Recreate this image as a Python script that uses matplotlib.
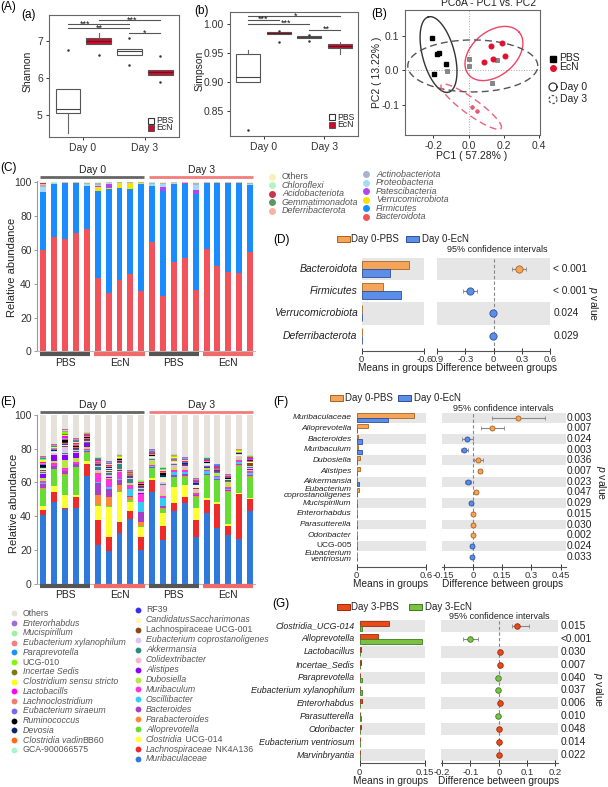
import numpy as np
import matplotlib
matplotlib.use('Agg')
import matplotlib.pyplot as plt
from matplotlib import transforms
from matplotlib.patches import Rectangle

plt.rcParams['font.family'] = ['Liberation Sans', 'DejaVu Sans']
plt.rcParams['mathtext.fontset'] = 'custom'
plt.rcParams['mathtext.rm'] = 'Liberation Sans'
plt.rcParams['mathtext.it'] = 'Liberation Sans:italic'
plt.rcParams['mathtext.bf'] = 'Liberation Sans:bold'
plt.rcParams['axes.linewidth'] = 0.8

# ====================== DATA ======================
box_groups = ['PBS', 'EcN', 'PBS', 'EcN']
day_labels = ['Day 0', 'Day 3']

# (a) Shannon
shannon_q1 = [5.05, 6.92, 6.62, 6.08]
shannon_med = [5.16, 7.00, 6.74, 6.15]
shannon_q3 = [5.70, 7.09, 6.78, 6.22]
shannon_lo = [4.51, 6.92, 6.62, 6.08]
shannon_hi = [5.70, 7.22, 6.78, 6.22]
shannon_fliers = [[6.76], [6.62], [7.07, 6.35], [6.59, 5.88]]
shannon_sig_x1 = [1, 2, 1, 3]
shannon_sig_x2 = [3, 4, 3, 4]
shannon_sig_y = [7.46, 7.57, 7.34, 7.21]
shannon_sig_tx = [1.58, 3.10, 2.03, 3.48]
shannon_sig_lab = ['***', '***', '**', '*']

# (b) Simpson
simpson_q1 = [0.899, 0.983, 0.976, 0.958]
simpson_med = [0.908, 0.984, 0.977, 0.961]
simpson_q3 = [0.948, 0.985, 0.978, 0.965]
simpson_lo = [0.899, 0.983, 0.976, 0.948]
simpson_hi = [0.955, 0.985, 0.978, 0.969]
simpson_fliers = [[0.817], [0.988, 0.969], [0.981, 0.971], []]
simpson_sig_x1 = [1, 1, 1, 3]
simpson_sig_x2 = [4, 2, 3, 4]
simpson_sig_y = [1.0129, 1.0069, 1.0000, 0.9897]
simpson_sig_tx = [2.55, 1.50, 2.25, 3.55]
simpson_sig_lab = ['*', '***', '***', '**']

# (B) PCoA
pbs_d0_x = [-0.207, -0.179, -0.170, -0.128, -0.198]
pbs_d0_y = [0.092, 0.048, 0.050, 0.017, -0.010]
pbs_d3_x = [-0.120, 0.000, 0.000, 0.163, 0.135]
pbs_d3_y = [-0.002, 0.032, 0.012, 0.029, -0.037]
ecn_d0_x = [0.130, 0.191, 0.209, 0.139, 0.089]
ecn_d0_y = [0.070, 0.077, 0.042, 0.032, 0.024]
ecn_d3_x = [0.020, 0.048]
ecn_d3_y = [-0.106, -0.119]
ell_cx = [-0.170, 0.144, 0.024, 0.015]
ell_cy = [0.045, 0.048, 0.012, -0.106]
ell_a_px = [39, 33, 65, 37]
ell_b_px = [16, 22, 26, 8]
ell_angle = [105, 40, 0, -36]
ell_color = ['#333333', '#ee4466', '#555555', '#f06080']
ell_style = ['-', '-', (0, (5, 3)), (0, (5, 3))]

# (C) phylum stacked bars (20 samples)
sample_groups = ['PBS', 'EcN', 'PBS', 'EcN']
bacteroidota = [60.0, 67.6, 66.8, 70.1, 72.7, 43.7, 34.8, 42.1, 46.0, 35.6,
                64.8, 32.8, 53.0, 55.1, 36.2, 60.5, 50.4, 46.9, 46.6, 59.1]
firmicutes = [34.2, 31.3, 32.7, 29.4, 25.0, 51.3, 61.2, 54.3, 50.2, 63.3,
              33.1, 61.8, 45.9, 44.0, 57.0, 39.0, 49.1, 52.8, 52.9, 39.4]
verrucomicrobiota = [0.2, 0.1, 0.0, 0.0, 0.0, 2.4, 0.6, 3.4, 3.2, 0.8,
                     0.0, 0.0, 0.0, 0.0, 0.0, 0.0, 0.0, 0.0, 0.0, 0.0]
patescibacteria = [0.1, 0.0, 0.0, 0.0, 0.0, 0.3, 2.6, 0.0, 0.2, 0.0,
                   0.2, 2.6, 0.2, 0.4, 2.0, 0.0, 0.0, 0.0, 0.0, 0.0]
proteobacteria = [2.8, 0.4, 0.2, 0.2, 1.4, 1.0, 0.3, 0.1, 0.2, 0.2,
                  1.0, 2.0, 0.5, 0.2, 3.2, 0.2, 0.2, 0.1, 0.2, 0.6]
actinobacteriota = [1.0, 0.3, 0.2, 0.2, 0.5, 0.8, 0.4, 0.1, 0.2, 0.1,
                    0.6, 0.5, 0.3, 0.2, 1.2, 0.2, 0.2, 0.1, 0.2, 0.6]
deferribacterota = [0.6, 0.1, 0.1, 0.1, 0.2, 0.2, 0.1, 0.1, 0.1, 0.1,
                    0.2, 0.1, 0.1, 0.1, 0.2, 0.1, 0.1, 0.1, 0.1, 0.1]
gemmatimonadota = [0.3, 0.0, 0.0, 0.0, 0.0, 0.0, 0.0, 0.0, 0.0, 0.0,
                   0.0, 0.0, 0.0, 0.0, 0.0, 0.0, 0.0, 0.0, 0.0, 0.0]
acidobacteriota = [0.3, 0.0, 0.0, 0.0, 0.0, 0.0, 0.0, 0.0, 0.0, 0.0,
                   0.0, 0.0, 0.0, 0.0, 0.0, 0.0, 0.0, 0.0, 0.0, 0.0]
chloroflexi = [0.0, 0.4, 0.0, 0.0, 0.0, 0.0, 0.0, 0.0, 0.0, 0.0,
               0.1, 0.0, 0.0, 0.0, 0.0, 0.0, 0.0, 0.0, 0.3, 0.0]
phylum_legend_col1 = ['Others', 'Chloroflexi', 'Acidobacteriota', 'Gemmatimonadota', 'Deferribacterota']
phylum_legend_col2 = ['Actinobacteriota', 'Proteobacteria', 'Patescibacteria', 'Verrucomicrobiota',
                      'Firmicutes', 'Bacteroidota']
phylum_colors = {'Others': '#fbefb6', 'Chloroflexi': '#b5f3c4', 'Acidobacteriota': '#c9344e',
                 'Gemmatimonadota': '#5d9664', 'Deferribacterota': '#f3b4a0',
                 'Actinobacteriota': '#a9b2cf', 'Proteobacteria': '#a8d8f8',
                 'Patescibacteria': '#b046f0', 'Verrucomicrobiota': '#f5e200',
                 'Firmicutes': '#1a8cff', 'Bacteroidota': '#f4525a'}

# (E) genus stacked bars
genus_legend_col1 = ['Others', 'Enterorhabdus', 'Mucispirillum', 'Eubacterium xylanophilum',
                     'Paraprevotella', 'UCG-010', 'Incertae Sedis', 'Clostridium sensu stricto',
                     'Lactobacills', 'Lachnoclostridium', 'Eubacterium siraeum', 'Ruminococcus',
                     'Devosia', 'Clostridia vadinBB60', 'GCA-900066575']
genus_legend_col2 = ['RF39', 'CandidatusSaccharimonas', 'Lachnospiraceae UCG-001',
                     'Eubacterium coprostanoligenes', 'Akkermansia', 'Colidextribacter', 'Alistipes',
                     'Dubosiella', 'Muribaculum', 'Oscillibacter', 'Bacteroides', 'Parabacteroides',
                     'Alloprevotella', 'Clostridia UCG-014', 'Lachnospiraceae NK4A136', 'Muribaculaceae']
genus_colors = {'Others': '#e6e1da', 'Enterorhabdus': '#9b6ee0', 'Mucispirillum': '#9ef0a0',
                'Eubacterium xylanophilum': '#f08080', 'Paraprevotella': '#1e90ff',
                'UCG-010': '#7cfc00', 'Incertae Sedis': '#7d7a1a',
                'Clostridium sensu stricto': '#ffff00', 'Lactobacills': '#ff00ff',
                'Lachnoclostridium': '#f47c6c', 'Eubacterium siraeum': '#7b68ee',
                'Ruminococcus': '#000000', 'Devosia': '#0a2a6b', 'Clostridia vadinBB60': '#ff6a13',
                'GCA-900066575': '#aaf5c8', 'RF39': '#3a2cf0', 'CandidatusSaccharimonas': '#fff3c0',
                'Lachnospiraceae UCG-001': '#8b4a13', 'Eubacterium coprostanoligenes': '#d9c4f5',
                'Akkermansia': '#2e8b7a', 'Colidextribacter': '#f5b5cf', 'Alistipes': '#8a00ff',
                'Dubosiella': '#b8e83a', 'Muribaculum': '#ff33dd', 'Oscillibacter': '#33ccf5',
                'Bacteroides': '#a640c8', 'Parabacteroides': '#ff8833', 'Alloprevotella': '#66dd33',
                'Clostridia UCG-014': '#ffff33', 'Lachnospiraceae NK4A136': '#ee2a2a',
                'Muribaculaceae': '#2f78dc'}
genus_abundance = {
    'Muribaculaceae': [40.6, 48.6, 44.0, 45.0, 63.8, 22.9, 19.5, 29.8, 38.1, 19.9, 54.5, 25.8, 43.0, 48.0, 27.8, 41.6, 33.1, 28.8, 26.4, 43.0],
    'Lachnospiraceae NK4A136': [3.0, 5.9, 1.0, 6.5, 6.9, 14.8, 7.9, 6.5, 5.1, 7.9, 6.9, 8.3, 5.0, 3.1, 9.9, 7.9, 14.1, 5.5, 26.7, 6.9],
    'Clostridia UCG-014': [2.5, 3.4, 7.5, 1.0, 2.0, 8.3, 18.2, 18.2, 5.0, 5.9, 1.0, 7.9, 9.5, 7.4, 6.9, 1.0, 1.4, 1.0, 0.8, 1.0],
    'Alloprevotella': [10.0, 9.9, 11.9, 16.4, 4.9, 0.5, 0.3, 0.3, 1.4, 0.5, 5.9, 2.5, 5.5, 4.9, 6.9, 13.8, 12.8, 19.2, 16.0, 12.5],
    'Parabacteroides': [0.5, 0.3, 0.3, 0.3, 0.3, 6.0, 5.5, 3.4, 1.5, 2.5, 0.5, 0.5, 0.5, 0.5, 0.3, 0.3, 0.3, 0.3, 0.3, 0.3],
    'Bacteroides': [2.5, 1.6, 2.0, 1.5, 0.8, 6.9, 4.4, 3.5, 1.0, 5.9, 0.5, 0.8, 1.0, 0.8, 0.5, 0.5, 0.5, 0.5, 0.5, 0.8],
    'Oscillibacter': [0.5, 0.3, 0.3, 0.3, 0.3, 1.0, 1.5, 0.5, 4.0, 5.9, 0.5, 5.0, 1.5, 1.5, 0.5, 1.5, 1.0, 1.0, 1.5, 1.0],
    'Muribaculum': [1.5, 1.5, 1.5, 1.0, 0.8, 5.0, 5.0, 4.0, 2.5, 4.5, 0.8, 1.0, 1.5, 1.0, 0.8, 1.0, 0.8, 0.8, 1.0, 1.0],
    'Dubosiella': [1.5, 1.0, 5.0, 2.4, 1.5, 0.5, 0.5, 0.5, 0.3, 0.3, 2.0, 0.5, 1.0, 0.5, 0.5, 1.0, 0.8, 2.5, 0.5, 1.0],
    'Alistipes': [2.5, 4.0, 3.0, 3.2, 2.0, 0.5, 0.5, 0.5, 0.3, 0.3, 0.3, 0.3, 0.3, 0.3, 0.3, 0.3, 0.3, 0.3, 0.3, 0.5],
    'Colidextribacter': [0.5, 0.3, 0.5, 0.5, 0.3, 1.0, 1.0, 0.5, 0.5, 1.5, 0.5, 6.0, 1.5, 1.0, 1.0, 0.5, 0.5, 0.5, 0.8, 0.8],
    'Akkermansia': [0.3, 0.2, 0.3, 0.3, 0.2, 2.0, 1.5, 3.5, 2.5, 1.2, 0.3, 0.5, 0.5, 0.3, 0.3, 0.3, 0.3, 0.3, 0.3, 0.3],
    'Eubacterium coprostanoligenes': [1.0, 0.5, 3.9, 1.0, 1.0, 0.5, 0.5, 0.5, 0.5, 0.5, 0.5, 1.0, 0.5, 0.5, 0.5, 0.5, 0.5, 0.3, 0.5, 0.5],
    'Lachnospiraceae UCG-001': [0.3, 0.2, 0.3, 0.3, 0.3, 0.3, 0.3, 0.3, 0.3, 0.3, 0.3, 0.3, 0.3, 0.3, 0.3, 0.3, 0.3, 0.2, 0.3, 2.0],
    'CandidatusSaccharimonas': [0.5, 0.3, 0.5, 0.3, 0.3, 0.3, 0.5, 0.3, 0.3, 0.3, 0.3, 2.0, 0.5, 0.3, 2.0, 0.3, 0.3, 0.2, 0.3, 0.3],
    'RF39': [0.3, 0.3, 0.5, 0.3, 0.3, 0.3, 1.0, 0.3, 0.3, 0.3, 0.3, 0.5, 0.3, 0.3, 0.3, 0.3, 0.3, 0.2, 0.3, 0.3],
    'GCA-900066575': [0.3, 0.2, 0.3, 0.3, 0.2, 0.3, 0.3, 0.3, 0.2, 0.2, 0.3, 0.3, 0.3, 0.2, 0.2, 0.2, 0.2, 0.2, 0.2, 0.2],
    'Clostridia vadinBB60': [0.5, 0.3, 0.5, 0.3, 0.3, 0.3, 0.3, 0.3, 0.3, 0.3, 0.3, 0.3, 0.3, 0.3, 0.3, 0.3, 0.3, 0.2, 0.3, 0.5],
    'Devosia': [0.3, 0.2, 0.5, 0.3, 0.2, 0.2, 0.2, 0.2, 0.2, 0.5, 0.2, 1.0, 0.2, 0.2, 0.2, 0.2, 0.2, 0.2, 0.2, 0.2],
    'Ruminococcus': [1.2, 0.2, 1.2, 0.5, 0.3, 0.2, 0.2, 0.2, 0.2, 0.2, 0.2, 1.0, 0.2, 0.2, 0.2, 0.2, 0.2, 0.2, 0.2, 0.2],
    'Eubacterium siraeum': [0.5, 0.5, 0.8, 0.5, 0.3, 0.3, 0.3, 0.3, 0.3, 0.3, 0.3, 0.3, 0.3, 0.3, 0.3, 0.3, 0.3, 0.2, 0.3, 0.3],
    'Lachnoclostridium': [0.7, 0.5, 0.8, 0.8, 0.5, 0.5, 0.5, 0.5, 0.5, 0.5, 0.5, 0.5, 0.5, 0.5, 0.5, 0.5, 0.3, 0.3, 0.3, 0.3],
    'Lactobacills': [0.5, 0.3, 0.8, 0.5, 0.5, 0.5, 0.5, 0.3, 0.3, 0.3, 0.5, 0.5, 0.5, 0.3, 0.3, 0.3, 0.3, 0.3, 0.3, 0.3],
    'Clostridium sensu stricto': [1.2, 0.3, 0.8, 0.5, 0.3, 0.3, 0.3, 0.3, 0.2, 0.2, 0.3, 0.5, 0.3, 0.3, 0.3, 0.3, 0.3, 0.2, 0.3, 0.3],
    'Incertae Sedis': [0.3, 0.2, 0.5, 0.3, 0.2, 0.2, 0.2, 0.2, 0.2, 0.2, 0.2, 0.2, 0.2, 0.2, 0.2, 0.2, 0.2, 0.2, 0.2, 0.3],
    'UCG-010': [0.5, 0.3, 1.0, 0.5, 0.3, 0.3, 0.3, 0.3, 0.2, 0.2, 0.3, 0.5, 0.3, 0.3, 0.2, 0.3, 0.2, 0.2, 0.2, 0.2],
    'Paraprevotella': [0.4, 0.2, 0.3, 0.3, 0.2, 0.3, 0.3, 0.3, 0.2, 0.2, 0.3, 0.3, 0.3, 0.3, 0.2, 0.3, 0.3, 0.2, 0.3, 0.3],
    'Eubacterium xylanophilum': [0.5, 0.5, 0.5, 0.5, 0.5, 0.5, 0.5, 0.5, 0.3, 0.3, 0.5, 0.5, 0.5, 0.5, 0.3, 0.5, 0.3, 0.3, 0.3, 0.5],
    'Mucispirillum': [0.3, 0.3, 0.5, 0.3, 0.3, 0.3, 0.3, 0.3, 0.2, 0.2, 0.3, 0.3, 0.3, 0.3, 0.2, 0.3, 0.2, 0.2, 0.2, 0.2],
    'Enterorhabdus': [0.3, 0.3, 0.5, 0.3, 0.3, 0.3, 0.3, 0.3, 0.2, 0.2, 0.3, 0.3, 0.3, 0.3, 0.2, 0.3, 0.2, 0.2, 0.2, 0.3],
}
# legend labels whose first part is italic and second part upright
genus_mixed_split = {'Clostridia vadinBB60': ('Clostridia vadin', 'BB60'),
                     'Clostridia UCG-014': ('Clostridia', ' UCG-014'),
                     'Lachnospiraceae NK4A136': ('Lachnospiraceae', ' NK4A136')}
genus_upright = ['Others', 'UCG-010', 'GCA-900066575', 'RF39', 'Lachnospiraceae UCG-001']

# (D) phylum extended error bar
d_names = ['Bacteroidota', 'Firmicutes', 'Verrucomicrobiota', 'Deferribacterota']
d_pbs = [0.453, 0.207, 0.001, 0.0005]
d_ecn = [0.271, 0.374, 0.004, 0.002]
d_diff = [0.266, -0.248, -0.010, -0.003]
d_ci_lo = [0.192, -0.322, -0.020, -0.012]
d_ci_hi = [0.340, -0.174, 0.000, 0.006]
d_p = ['< 0.001', '< 0.001', '0.024', '0.029']

# (F) genus, day 0
f_names = ['Muribaculaceae', 'Alloprevotella', 'Bacteroides', 'Muribaculum', 'Dubosiella',
           'Alistipes', 'Akkermansia', 'Eubacterium\ncoprostanoligenes', 'Mucispirillum',
           'Enterorhabdus', 'Parasutterella', 'Odoribacter', 'UCG-005', 'Eubacterium\nventriosum']
f_pbs = [0.499, 0.100, 0.014, 0.010, 0.025, 0.028, 0.003, 0.018, 0.002, 0.005, 0.004, 0.003, 0.001, 0.001]
f_ecn = [0.268, 0.005, 0.043, 0.043, 0.003, 0.003, 0.020, 0.002, 0.004, 0.002, 0.002, 0.001, 0.003, 0.003]
f_diff = [0.233, 0.099, -0.029, -0.043, 0.028, 0.036, -0.024, 0.014, -0.008, 0.001, 0.001, 0.002, -0.002, -0.002]
f_ci_lo = [0.099, 0.043, -0.054, -0.060, 0.004, 0.024, -0.039, 0.006, -0.012, -0.002, -0.002, -0.001, -0.005, -0.005]
f_ci_hi = [0.369, 0.159, 0.002, -0.025, 0.050, 0.048, -0.009, 0.022, -0.004, 0.004, 0.004, 0.005, 0.001, 0.001]
f_p = ['0.003', '0.007', '0.024', '0.003', '0.036', '0.007', '0.023', '0.047', '0.029',
       '0.015', '0.030', '0.002', '0.024', '0.033']

# (G) genus, day 3
g_names = ['Clostridia_UCG-014', 'Alloprevotella', 'Lactobacillus', 'Incertae_Sedis', 'Paraprevotella',
           'Eubacterium xylanophilum', 'Enterorhabdus', 'Parasutterella', 'Odoribacter',
           'Eubacterium ventriosum', 'Marvinbryantia']
g_pbs = [0.068, 0.0434, 0.004, 0.003, 0.001, 0.001, 0.005, 0.001, 0.003, 0.001, 0.001]
g_ecn = [0.0065, 0.142, 0.0005, 0.0003, 0.005, 0.005, 0.001, 0.004, 0.0003, 0.0008, 0.0003]
g_diff = [0.063, -0.103, 0.005, 0.004, -0.004, -0.004, 0.006, -0.003, 0.002, 0.001, 0.001]
g_ci_lo = [0.047, -0.128, 0.001, 0.001, -0.008, -0.008, 0.002, -0.006, -0.001, -0.002, -0.002]
g_ci_hi = [0.108, -0.075, 0.009, 0.007, 0.000, 0.000, 0.010, 0.000, 0.005, 0.004, 0.004]
g_p = ['0.015', '<0.001', '0.030', '0.007', '0.040', '0.037', '0.006', '0.010', '0.048', '0.014', '0.022']

# ====================== FIGURE ======================
W, H = 608, 787
fig = plt.figure(figsize=(W / 100, H / 100), dpi=100)
ov = fig.add_axes([0, 0, 1, 1], zorder=20)
ov.set_xlim(0, W)
ov.set_ylim(H, 0)
ov.axis('off')
renderer = fig.canvas.get_renderer()

TXT = '#222222'


def px_axes(x0, y0, x1, y1):
    return fig.add_axes([x0 / W, 1 - y1 / H, (x1 - x0) / W, (y1 - y0) / H])


def blend(ax):
    return transforms.blended_transform_factory(ax.transData, ov.transData)


def otext(x, y, s, size=7, **kw):
    kw.setdefault('color', TXT)
    kw.setdefault('va', 'center')
    return ov.text(x, y, s, fontsize=size, **kw)


# panel labels
for lab, x, y in [('(A)', 0, 7), ('(a)', 21, 15), ('(b)', 194, 11), ('(B)', 371, 14),
                  ('(C)', 0, 168), ('(D)', 273, 240), ('(E)', 0, 402), ('(F)', 273, 402),
                  ('(G)', 272, 604)]:
    otext(x, y, lab, 8.5, ha='left', color='black')

# ---------------- (a), (b) boxplots ----------------
group_face = {'PBS': 'white', 'EcN': '#c8102e'}


def alpha_panel(ax, q1, med, q3, lo, hi, fl, ylim, yticks, ytl, sx1, sx2, sy, stx, slab):
    stats = [dict(q1=q1[i], med=med[i], q3=q3[i], whislo=lo[i], whishi=hi[i], fliers=fl[i])
             for i in range(len(q1))]
    bp = ax.bxp(stats, positions=[1, 2, 3, 4], widths=0.78, patch_artist=True, showcaps=False,
                boxprops=dict(edgecolor='#555555', linewidth=0.8),
                whiskerprops=dict(color='#666666', linewidth=0.8),
                medianprops=dict(color='#444444', linewidth=0.8),
                flierprops=dict(marker='o', markersize=1.8, markerfacecolor='#333333',
                                markeredgecolor='none'))
    for patch, grp in zip(bp['boxes'], box_groups):
        patch.set_facecolor(group_face[grp])
    for m, grp in zip(bp['medians'], box_groups):
        if grp == 'EcN':
            m.set_color('#7a0a1c')
    for a, b, y, tx, lab in zip(sx1, sx2, sy, stx, slab):
        ax.plot([a, b], [y, y], color='#555555', lw=0.8)
        ax.text(tx, y, lab, ha='center', va='center', fontsize=6.5, color='#111111')
    ax.set_xlim(0.4, 4.6)
    ax.set_ylim(*ylim)
    ax.set_xticks([1.5, 3.5])
    ax.set_xticklabels(day_labels)
    ax.set_yticks(yticks)
    ax.set_yticklabels(ytl)
    ax.tick_params(labelsize=7.5, length=2.5, width=0.7, pad=2, colors='#333333')
    for s in ax.spines.values():
        s.set_color('#666666')


ax_a = px_axes(49, 15, 179, 137)
alpha_panel(ax_a, shannon_q1, shannon_med, shannon_q3, shannon_lo, shannon_hi, shannon_fliers,
            (4.405, 7.70), [5, 6, 7], ['5', '6', '7'], shannon_sig_x1, shannon_sig_x2,
            shannon_sig_y, shannon_sig_tx, shannon_sig_lab)
ax_b = px_axes(230, 12, 358, 136)
alpha_panel(ax_b, simpson_q1, simpson_med, simpson_q3, simpson_lo, simpson_hi, simpson_fliers,
            (0.807, 1.020), [0.85, 0.90, 0.95, 1.00], ['0.85', '0.90', '0.95', '1.00'],
            simpson_sig_x1, simpson_sig_x2, simpson_sig_y, simpson_sig_tx, simpson_sig_lab)
otext(27.5, 71, 'Shannon', 7.5, rotation=90, ha='center')
otext(200, 71, 'Simpson', 7.5, rotation=90, ha='center')
for lx, ly in [(151, 120.5), (332, 117)]:
    ov.add_patch(Rectangle((lx - 3, ly - 3), 6, 6, facecolor='white', edgecolor='#333333', lw=0.8))
    ov.add_patch(Rectangle((lx - 3, ly + 4.5), 6, 6, facecolor='#c8102e', edgecolor='#333333', lw=0.5))
    otext(lx + 5, ly, 'PBS', 6.2, ha='left')
    otext(lx + 5, ly + 7.5, 'EcN', 6.2, ha='left')

# ---------------- (B) PCoA ----------------
axB = px_axes(405, 10, 540, 135)
axB.set_xlim(-0.36, 0.405)
axB.set_ylim(-0.188, 0.174)
axB.axhline(0, color='#aaaaaa', lw=0.7, ls=':')
axB.axvline(0, color='#aaaaaa', lw=0.7, ls=':')
sxB = 135 / (0.405 + 0.36)
syB = 125 / (0.174 + 0.188)
t = np.linspace(0, 2 * np.pi, 240)
for cx, cy, a, b, ang, col, ls in zip(ell_cx, ell_cy, ell_a_px, ell_b_px, ell_angle, ell_color, ell_style):
    th = np.deg2rad(ang)
    ex = a * np.cos(t) * np.cos(th) - b * np.sin(t) * np.sin(th)
    ey = a * np.cos(t) * np.sin(th) + b * np.sin(t) * np.cos(th)
    axB.plot(cx + ex / sxB, cy + ey / syB, color=col, lw=1.0, ls=ls)
axB.plot(pbs_d0_x, pbs_d0_y, 's', ms=3.2, color='black', mec='black')
axB.plot(pbs_d3_x, pbs_d3_y, 's', ms=2.4, color='#888888', mec='#555555', mew=0.4)
axB.plot(ecn_d0_x, ecn_d0_y, 'o', ms=3.3, color='#e0102f', mec='#e0102f')
axB.plot(ecn_d3_x, ecn_d3_y, 'o', ms=2.6, color='#ee5a72', mec='#d03050', mew=0.4)
axB.set_xticks([-0.2, 0.0, 0.2, 0.4])
axB.set_xticklabels(['-0.2', '0.0', '0.2', '0.4'])
axB.set_yticks([-0.1, 0.0, 0.1])
axB.set_yticklabels(['-0.1', '0.0', '0.1'])
axB.tick_params(labelsize=7.5, length=2.5, width=0.7, pad=1.5, colors='#333333')
for s in axB.spines.values():
    s.set_color('#666666')
otext(489, 3.5, 'PCoA - PC1 vs. PC2', 7.5, ha='center')
otext(472, 156, 'PC1 ( 57.28% )', 7.5, ha='center')
otext(377, 72, 'PC2 ( 13.22% )', 7.5, ha='center', rotation=90)
ov.plot([553], [59], 's', ms=4, color='black')
ov.plot([553], [67.5], 'o', ms=4, color='#e0102f')
otext(559, 58, 'PBS', 7.5, ha='left')
otext(559, 66.5, 'EcN', 7.5, ha='left')
cc = np.linspace(0, 2 * np.pi, 80)
ov.plot(553 + 4 * np.cos(cc), 87 + 4 * np.sin(cc), color='#333333', lw=0.9)
ov.plot(553 + 4 * np.cos(cc), 99.5 + 4 * np.sin(cc), color='#555555', lw=0.9, ls=(0, (2, 1.5)))
otext(560, 87, 'Day 0', 7.5, ha='left')
otext(560, 99.5, 'Day 3', 7.5, ha='left')


# ---------------- stacked bar helper ----------------
def stacked_frame(ax, header_y, text_y, bottom_y, label_y):
    ax.set_xlim(-0.55, 19.4)
    for s in ['top', 'right']:
        ax.spines[s].set_visible(False)
    ax.spines['left'].set_color('#999999')
    ax.spines['bottom'].set_color('#bbbbbb')
    ax.set_xticks([])
    ax.set_yticks([0, 20, 40, 60, 80, 100])
    ax.tick_params(labelsize=7.5, length=2.5, width=0.7, pad=1.5, color='#999999', labelcolor='#333333')
    tr = blend(ax)
    for d, (lab, col) in enumerate(zip(day_labels, ['#666666', '#f47c7c'])):
        ov.plot([10 * d - 0.28, 10 * d + 9.28], [header_y, header_y], transform=tr, color=col,
                lw=2, solid_capstyle='butt', clip_on=False)
        ov.text(10 * d + 4.5, text_y, lab, transform=tr, ha='center', va='center', fontsize=7.5,
                color=TXT)
    for g, lab in enumerate(sample_groups):
        col = '#555555' if lab == 'PBS' else '#f06a6a'
        ov.plot([5 * g - 0.3, 5 * g + 4.3], [bottom_y, bottom_y], transform=tr, color=col,
                lw=3, solid_capstyle='butt', clip_on=False)
        ov.text(5 * g + 2, label_y, lab, transform=tr, ha='center', va='center', fontsize=7.5,
                color=TXT)


# ---------------- (C) ----------------
axC = px_axes(37.3, 181.5, 254.5, 351.5)
axC.set_ylim(0, 100.5)
xs = np.arange(len(bacteroidota))
phylum_stack = [('Bacteroidota', bacteroidota), ('Firmicutes', firmicutes),
                ('Verrucomicrobiota', verrucomicrobiota), ('Patescibacteria', patescibacteria),
                ('Proteobacteria', proteobacteria), ('Actinobacteriota', actinobacteriota),
                ('Deferribacterota', deferribacterota), ('Gemmatimonadota', gemmatimonadota),
                ('Acidobacteriota', acidobacteriota), ('Chloroflexi', chloroflexi)]
bottom = np.zeros(len(xs))
for name, vals in phylum_stack:
    v = np.array(vals, dtype=float)
    axC.bar(xs, v, bottom=bottom, width=0.55, color=phylum_colors[name], linewidth=0)
    bottom += v
axC.bar(xs, np.clip(100 - bottom, 0, None), bottom=bottom, width=0.55,
        color=phylum_colors['Others'], linewidth=0)
stacked_frame(axC, 177.3, 170, 353.8, 363.3)
otext(12, 267, 'Relative abundance', 8, rotation=90, ha='center')
for i, name in enumerate(phylum_legend_col1):
    y = 176.9 + 8.5 * i
    ov.plot([272], [y], 'o', ms=5, color=phylum_colors[name], mec='none')
    otext(282, y, name, 6.5, ha='left', color='#555555', style='normal' if name == 'Others' else 'italic')
for i, name in enumerate(phylum_legend_col2):
    y = 174.4 + 8.5 * i
    ov.plot([366], [y], 'o', ms=5, color=phylum_colors[name], mec='none')
    otext(376, y, name, 6.5, ha='left', color='#555555', style='italic')

# ---------------- (E) ----------------
axE = px_axes(37.3, 414.5, 254.5, 583.5)
axE.set_ylim(0, 100.3)
stack_order = list(reversed(genus_legend_col2)) + list(reversed(genus_legend_col1[1:]))
bottom = np.zeros(len(xs))
for name in stack_order:
    v = np.array(genus_abundance[name], dtype=float)
    axE.bar(xs, v, bottom=bottom, width=0.55, color=genus_colors[name], linewidth=0)
    bottom += v
axE.bar(xs, np.clip(100 - bottom, 0, None), bottom=bottom, width=0.55,
        color=genus_colors['Others'], linewidth=0)
stacked_frame(axE, 412.3, 405, 585.5, 595.5)
otext(14.5, 503, 'Relative abundance', 8, rotation=90, ha='center')


def genus_legend_text(x, y, name):
    if name in genus_mixed_split:
        part_it, part_rm = genus_mixed_split[name]
        t1 = otext(x, y, part_it, 6.3, ha='left', color='#555555', style='italic')
        w = t1.get_window_extent(renderer).width
        otext(x + w, y, part_rm, 6.3, ha='left', color='#555555')
    else:
        otext(x, y, name, 6.3, ha='left', color='#555555',
              style='normal' if name in genus_upright else 'italic')


for i, name in enumerate(genus_legend_col1):
    y = 613.3 + 9.76 * i
    ov.plot([14], [y], 'o', ms=4.2, color=genus_colors[name], mec='none')
    genus_legend_text(22.7, y, name)
for i, name in enumerate(genus_legend_col2):
    y = 610 + 9.93 * i
    ov.plot([137.7], [y], 'o', ms=4.2, color=genus_colors[name], mec='none')
    genus_legend_text(146, y, name)


# ---------------- extended error bar panels ----------------
def ext_panel(axl, axr, names, m1, m2, diff, lo, hi, pv, cols, ylim, band_half, bar_h, ms,
              xl_lim, xl_ticks, xl_tl, xr_lim, xr_ticks, xr_tl, name_x, name_fs, p_x, p_fs,
              pl_x, pl_y, leg_y, leg_x, leg_labels, ci_y, xlab_y, xl_cx, xr_cx, linesp=1.0):
    n = len(names)
    ys = np.arange(n)
    c1, e1, c2, e2 = cols
    for ax in (axl, axr):
        for i in range(0, n, 2):
            ax.axhspan(i - band_half, i + band_half, color='#e6e6e6', lw=0, zorder=0)
        ax.set_ylim(*ylim)
        for s in ['top', 'right', 'left']:
            ax.spines[s].set_visible(False)
        ax.spines['bottom'].set_color('#555555')
        ax.set_yticks([])
        ax.tick_params(axis='x', labelsize=6.8, direction='inout', length=4, width=0.7, pad=1.2,
                       colors='#333333')
    axl.barh(ys - bar_h / 2, m1, height=bar_h, color=c1, edgecolor=e1, lw=0.6, zorder=2)
    axl.barh(ys + bar_h / 2, m2, height=bar_h, color=c2, edgecolor=e2, lw=0.6, zorder=2)
    axl.set_xlim(*xl_lim)
    axl.set_xticks(xl_ticks)
    axl.set_xticklabels(xl_tl)
    axr.axvline(0, color='#888888', lw=0.8, ls=(0, (3, 2)), zorder=1)
    for i in range(n):
        fc, ec = (c1, e1) if diff[i] > 0 else (c2, e2)
        axr.errorbar([diff[i]], [i], xerr=[[diff[i] - lo[i]], [hi[i] - diff[i]]], fmt='o',
                     ms=ms, mfc=fc, mec=ec, mew=0.6, ecolor='#888888', elinewidth=0.8,
                     capsize=1.3, capthick=0.8, zorder=3)
    axr.set_xlim(*xr_lim)
    axr.set_xticks(xr_ticks)
    axr.set_xticklabels(xr_tl)
    trl = transforms.blended_transform_factory(ov.transData, axl.transData)
    for i, nm in enumerate(names):
        ov.text(name_x, i, nm, transform=trl, ha='right', va='center', fontsize=name_fs,
                style='italic' if nm != 'UCG-005' else 'normal', color=TXT, linespacing=linesp)
        ov.text(p_x, i, pv[i], transform=trl, ha='left', va='center', fontsize=p_fs, color=TXT)
    otext(pl_x, pl_y, r'$\mathit{p}$ value', 7.5, ha='center', rotation=270)
    (r1x, t1x), (r2x, t2x) = leg_x
    ov.add_patch(Rectangle((r1x, leg_y - 3), 13, 6, facecolor=c1, edgecolor=e1, lw=0.7))
    ov.add_patch(Rectangle((r2x, leg_y - 3), 13, 6, facecolor=c2, edgecolor=e2, lw=0.7))
    otext(t1x, leg_y, leg_labels[0], 7, ha='left')
    otext(t2x, leg_y, leg_labels[1], 7, ha='left')
    otext(xr_cx, ci_y, '95% confidence intervals', 6.5, ha='center')
    otext(xl_cx, xlab_y, 'Means in groups', 7.3, ha='center')
    otext(xr_cx, xlab_y, 'Difference between groups', 7.3, ha='center')


orange_blue = ('#f5a55a', '#a8641f', '#5b8ee6', '#2d4f9e')
red_green = ('#e84a1a', '#9a2a0a', '#7cc242', '#3f7a1e')

axDl = px_axes(361.7, 257.3, 424.3, 350.7)
axDr = px_axes(437.3, 257.3, 550, 350.7)
ext_panel(axDl, axDr, d_names, d_pbs, d_ecn, d_diff, d_ci_lo, d_ci_hi, d_p, orange_blue,
          (3.67, -0.51), 0.5, 0.36, 5.2,
          (0, 0.6), [0, 0.6], ['0', '-0.6'], (-0.6, 0.6), [-0.6, -0.3, 0, 0.3, 0.6],
          ['0.9', '-0.3', '0', '0.3', '0.6'], 357.5, 7.5, 553.3, 7.3, 593, 304,
          239.3, ((336.7, 351), (405.5, 421.7)), ['Day 0-PBS', 'Day 0-EcN'], 250, 368, 396, 497)

axFl = px_axes(356.7, 412.3, 426, 566.7)
axFr = px_axes(441.7, 412.3, 566, 566.7)
ext_panel(axFl, axFr, f_names, f_pbs, f_ecn, f_diff, f_ci_lo, f_ci_hi, f_p, orange_blue,
          (13.94, -0.5), 0.46, 0.42, 3.6,
          (0, 0.6), [0, 0.6], ['0', '0.6'], (-0.16, 0.478), [-0.15, 0, 0.15, 0.3, 0.45],
          ['-0.15', '0', '0.15', '0.3', '0.45'], 351.5, 6.0, 566.5, 7.3, 601, 483,
          398.3, ((330, 345), (398, 414)), ['Day 0-PBS', 'Day 0-EcN'], 408.3, 584, 391, 503,
          linesp=0.72)

axGl = px_axes(359.5, 619.5, 425, 763.3)
axGr = px_axes(440.7, 619.5, 558.3, 763.3)
ext_panel(axGl, axGr, g_names, g_pbs, g_ecn, g_diff, g_ci_lo, g_ci_hi, g_p, red_green,
          (10.64, -0.5), 0.46, 0.36, 4.0,
          (0, 0.15), [0, 0.15], ['0', '0.15'], (-0.205, 0.21), [-0.2, -0.1, 0, 0.1, 0.2],
          ['-0.2', '-0.1', '0', '0.1', '0.2'], 354.5, 6.4, 560.7, 7.3, 598, 690,
          607.3, ((336.7, 351), (409.3, 425)), ['Day 3-PBS', 'Day 3-EcN'], 616.7, 781, 391, 499)

fig.savefig('out.png', dpi=100)
